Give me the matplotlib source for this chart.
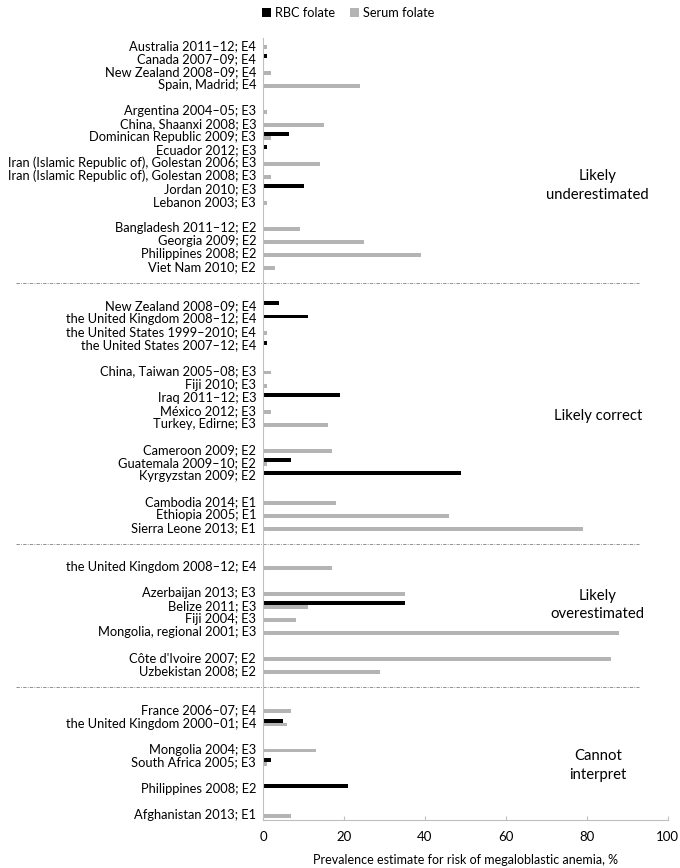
import matplotlib.pyplot as plt
import numpy as np

plt.rcParams['font.family'] = ['Lato', 'DejaVu Sans']

# row labels, '' = empty spacer row
labels = [
    'Australia 2011–12; E4', 'Canada 2007–09; E4', 'New Zealand 2008–09; E4', 'Spain, Madrid; E4', '',
    'Argentina 2004–05; E3', 'China, Shaanxi 2008; E3', 'Dominican Republic 2009; E3', 'Ecuador 2012; E3',
    'Iran (Islamic Republic of), Golestan 2006; E3', 'Iran (Islamic Republic of), Golestan 2008; E3',
    'Jordan 2010; E3', 'Lebanon 2003; E3', '',
    'Bangladesh 2011–12; E2', 'Georgia 2009; E2', 'Philippines 2008; E2', 'Viet Nam 2010; E2', '', '',
    'New Zealand 2008–09; E4', 'the United Kingdom 2008–12; E4', 'the United States 1999–2010; E4',
    'the United States 2007–12; E4', '',
    'China, Taiwan 2005–08; E3', 'Fiji 2010; E3', 'Iraq 2011–12; E3', 'México 2012; E3', 'Turkey, Edirne; E3', '',
    'Cameroon 2009; E2', 'Guatemala 2009–10; E2', 'Kyrgyzstan 2009; E2', '',
    'Cambodia 2014; E1', 'Ethiopia 2005; E1', 'Sierra Leone 2013; E1', '', '',
    'the United Kingdom 2008–12; E4', '',
    'Azerbaijan 2013; E3', 'Belize 2011; E3', 'Fiji 2004; E3', 'Mongolia, regional 2001; E3', '',
    "Côte d'Ivoire 2007; E2", 'Uzbekistan 2008; E2', '', '',
    'France 2006–07; E4', 'the United Kingdom 2000–01; E4', '',
    'Mongolia 2004; E3', 'South Africa 2005; E3', '',
    'Philippines 2008; E2', '',
    'Afghanistan 2013; E1',
]

# values for non-empty rows, in order (0 = no bar)
rbc = [0, 1, 0, 0,
       0, 0, 6.5, 1, 0, 0, 10, 0,
       0, 0, 0, 0,
       4, 11, 0, 1,
       0, 0, 19, 0, 0,
       0, 7, 49,
       0, 0, 0,
       0,
       0, 35, 0, 0,
       0, 0,
       0, 5,
       0, 2,
       21,
       0]
serum = [1, 0, 2, 24,
         1, 15, 2, 0, 14, 2, 0, 1,
         9, 25, 39, 3,
         0, 0, 1, 0,
         2, 1, 0, 2, 16,
         17, 1, 0,
         18, 46, 79,
         17,
         35, 11, 8, 88,
         86, 29,
         7, 6,
         13, 1,
         0,
         7]

sections = ['Likely\nunderestimated', 'Likely correct', 'Likely\noverestimated', 'Cannot\ninterpret']
section_y = [10.8, 28.5, 43.0, 55.3]
separators = [18.3, 38.3, 49.3]

rows = [i for i, l in enumerate(labels) if l]
rows = np.array(rows, dtype=float)

fig = plt.figure(figsize=(6.8, 8.68), dpi=100)
ax = fig.add_axes([0.387, 0.055, 0.595, 0.901])

h = 0.3
ax.barh(rows - h / 2, rbc, height=h, color='black', label='RBC folate')
ax.barh(rows + h / 2, serum, height=h, color='#b4b4b4', label='Serum folate')

ax.set_ylim(59.5, -0.5)
ax.set_xlim(0, 100)
ax.set_yticks(rows)
ax.set_yticklabels([l for l in labels if l], fontsize=9.3)
ax.tick_params(axis='y', length=0, pad=5)
ax.set_xticks([0, 20, 40, 60, 80, 100])
ax.tick_params(axis='x', direction='in', length=3, color='#bfbfbf', labelsize=9.5, pad=8)

for s in ['top', 'right']:
    ax.spines[s].set_visible(False)
ax.spines['left'].set_color('#bfbfbf')
ax.spines['bottom'].set_color('#bfbfbf')

ax.set_xlabel('Prevalence estimate for risk of megaloblastic anemia, %', fontsize=9, labelpad=8)

for y in separators:
    ax.plot([-0.612, 0.93], [y, y], transform=ax.get_yaxis_transform(), clip_on=False,
            color='#7f7f7f', lw=0.6, ls=(0, (4, 1.5, 1, 1.5)))

for txt, y in zip(sections, section_y):
    ax.text(82.7, y, txt, ha='center', va='center', fontsize=10.7, linespacing=1.4)

fig.legend(loc='upper center', bbox_to_anchor=(0.512, 1.005), ncol=2, frameon=False,
           fontsize=9.2, handlelength=0.7, handleheight=0.7, handletextpad=0.3, columnspacing=1.2)

fig.savefig('out.png', dpi=100)
